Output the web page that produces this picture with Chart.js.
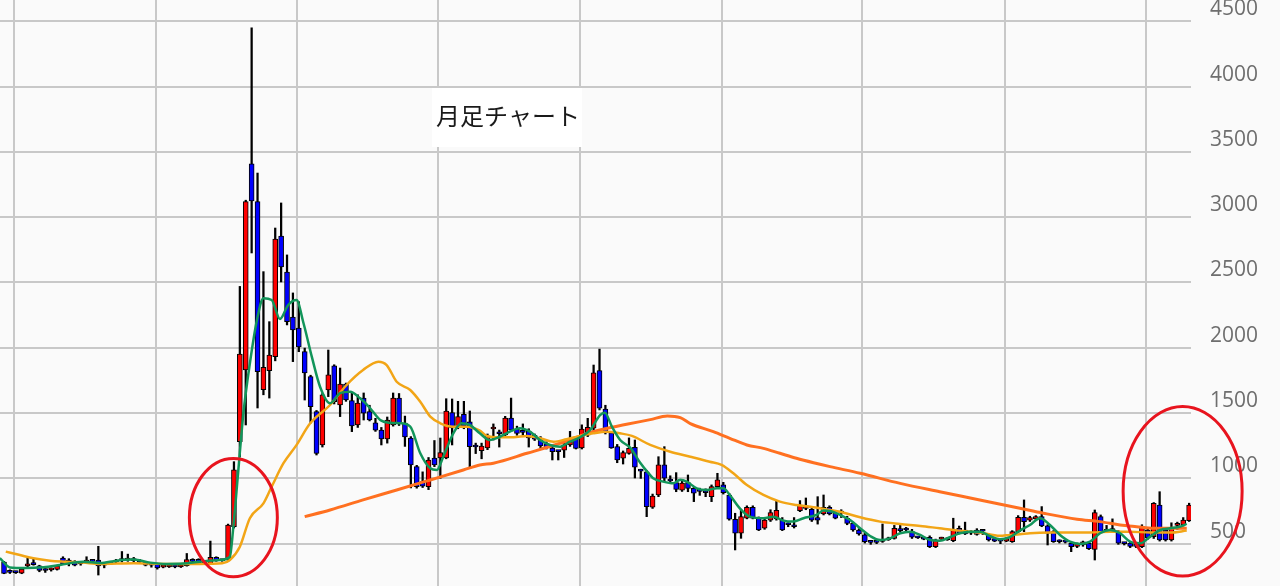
<!DOCTYPE html>
<html>
<head>
<meta charset="utf-8">
<title>月足チャート</title>
<script src="https://cdn.jsdelivr.net/npm/chart.js@4.4.1/dist/chart.umd.min.js"></script>
<style>
    html, body { margin: 0; padding: 0; background: #fafafa; }
    #wrap { width: 1280px; height: 586px; }
</style>
</head>
<body>
<div id="wrap"><canvas id="monthlyChart" width="1280" height="586"></canvas></div>
<script>
// Monthly candles (index 0 = oldest month)
const opens = [
    360, 285, 282, 275, 330, 345, 330, 300, 300, 302, 390, 370, 363, 345, 360, 370, 375, 335, 350, 360,
    370, 375, 380, 370, 360, 340, 345, 320, 322, 325, 322, 332, 370, 380, 345, 345, 395, 370, 375, 630,
    1281, 1830, 3408, 3119, 1680, 1825, 1932, 2856, 2580, 2236, 2151, 1970, 1779, 1511, 1256, 1677, 1861, 1562, 1723, 1595,
    1409, 1615, 1511, 1426, 1370, 1302, 1409, 1615, 1424, 1309, 1090, 975, 937, 1156, 1156, 1156, 1503, 1396, 1490, 1434,
    1248, 1212, 1233, 1378, 1348, 1332, 1462, 1375, 1360, 1363, 1330, 1302, 1264, 1233, 1210, 1217, 1256, 1304, 1233, 1330,
    1384, 1825, 1531, 1348, 1243, 1154, 1192, 1238, 1060, 1051, 779, 873, 1103, 995, 967, 910, 967, 924, 905, 895,
    860, 937, 950, 873, 687, 580, 695, 779, 695, 618, 681, 690, 681, 650, 640, 753, 770, 763, 700, 727,
    779, 733, 740, 695, 656, 605, 567, 520, 515, 517, 530, 541, 610, 610, 592, 550, 540, 549, 477, 535,
    535, 523, 618, 605, 590, 605, 600, 567, 540, 525, 520, 515, 592, 702, 680, 690, 707, 636, 592, 520,
    515, 503, 480, 490, 503, 457, 707, 600, 600, 592, 505, 505, 485, 477, 605, 554, 796, 605, 528, 640,
    643, 676
];
const highs = [
    365, 300, 290, 310, 400, 385, 335, 310, 315, 335, 400, 385, 370, 360, 400, 380, 480, 345, 365, 380,
    440, 420, 395, 380, 365, 350, 350, 330, 335, 335, 335, 425, 385, 385, 360, 520, 400, 380, 650, 1128,
    2470, 3130, 4450, 3338, 2583, 2200, 2917, 3109, 2711, 2420, 2353, 1998, 1790, 1520, 1650, 1983, 1870, 1845, 1730, 1654,
    1640, 1654, 1560, 1460, 1390, 1470, 1654, 1650, 1477, 1320, 1100, 1050, 1160, 1290, 1309, 1610, 1608, 1590, 1590, 1516,
    1270, 1270, 1340, 1417, 1370, 1475, 1615, 1400, 1417, 1380, 1340, 1320, 1280, 1240, 1215, 1275, 1360, 1320, 1410, 1460,
    1868, 1990, 1560, 1360, 1260, 1210, 1310, 1294, 1070, 1060, 880, 1166, 1243, 1020, 1044, 980, 1026, 935, 925, 920,
    950, 1039, 970, 885, 733, 758, 790, 790, 705, 700, 760, 827, 700, 660, 700, 830, 850, 775, 860, 873,
    790, 740, 760, 710, 665, 615, 580, 525, 520, 651, 550, 640, 640, 625, 610, 555, 545, 560, 535, 550,
    545, 695, 635, 665, 600, 615, 610, 575, 545, 530, 545, 600, 715, 835, 710, 715, 784, 645, 600, 530,
    520, 510, 505, 520, 510, 758, 720, 640, 690, 600, 510, 510, 495, 645, 615, 815, 898, 620, 660, 665,
    700, 810
];
const lows = [
    270, 272, 272, 270, 320, 335, 285, 280, 290, 298, 340, 330, 330, 335, 355, 355, 260, 315, 345, 355,
    360, 365, 360, 350, 330, 320, 305, 315, 318, 315, 318, 328, 355, 340, 340, 340, 365, 365, 365, 620,
    1166, 1409, 2726, 1539, 1640, 1615, 1900, 2504, 2175, 1894, 1970, 1600, 1424, 1179, 1240, 1626, 1570, 1473, 1590, 1358,
    1390, 1447, 1440, 1360, 1256, 1270, 1400, 1405, 1245, 927, 925, 930, 914, 1090, 1000, 1150, 1256, 1380, 1380, 1084,
    1190, 1150, 1220, 1294, 1240, 1320, 1360, 1330, 1330, 1240, 1290, 1230, 1225, 1141, 1141, 1160, 1245, 1225, 1225, 1320,
    1348, 1524, 1340, 1230, 1120, 1110, 1185, 1003, 1000, 707, 770, 860, 975, 970, 898, 900, 898, 822, 870, 860,
    822, 930, 880, 680, 452, 541, 690, 690, 600, 610, 670, 680, 600, 630, 620, 745, 760, 670, 650, 720,
    720, 690, 700, 645, 595, 565, 505, 495, 500, 510, 525, 535, 590, 595, 540, 540, 530, 470, 470, 525,
    525, 515, 575, 570, 570, 565, 570, 520, 515, 500, 515, 510, 585, 592, 670, 685, 630, 490, 510, 505,
    505, 439, 470, 480, 455, 375, 585, 585, 590, 495, 490, 470, 470, 470, 535, 540, 520, 520, 520, 610,
    635, 670
];
const closes = [
    273, 280, 278, 305, 335, 340, 295, 295, 305, 330, 345, 360, 335, 350, 365, 365, 330, 340, 355, 365,
    375, 380, 370, 360, 335, 335, 315, 322, 325, 322, 325, 378, 365, 345, 350, 395, 370, 372, 643, 1065,
    1952, 3119, 3124, 1817, 1850, 1945, 2833, 2619, 2200, 2136, 2006, 1807, 1549, 1192, 1639, 1792, 1588, 1723, 1600, 1401,
    1577, 1500, 1447, 1370, 1302, 1447, 1615, 1420, 1317, 1103, 937, 940, 1141, 1103, 1197, 1516, 1386, 1473, 1400, 1243,
    1240, 1248, 1325, 1383, 1342, 1462, 1370, 1345, 1352, 1309, 1300, 1248, 1235, 1205, 1205, 1256, 1281, 1230, 1378, 1390,
    1809, 1537, 1358, 1233, 1141, 1197, 1230, 1085, 1055, 783, 865, 1103, 1001, 980, 916, 965, 924, 886, 900, 890,
    937, 988, 890, 687, 580, 707, 779, 695, 605, 681, 738, 755, 605, 645, 630, 796, 790, 681, 680, 779,
    727, 695, 735, 656, 605, 574, 515, 510, 510, 530, 540, 618, 600, 605, 549, 545, 535, 477, 528, 540,
    530, 610, 580, 575, 580, 570, 595, 528, 520, 520, 540, 592, 702, 669, 700, 707, 636, 580, 515, 515,
    512, 477, 500, 515, 462, 738, 592, 595, 605, 503, 500, 480, 480, 631, 545, 809, 528, 528, 618, 645,
    681, 796
];

// Moving averages: [candle index, value]
const maShortIdx = [
    -0.7, 1, 3.6, 6.7, 9.5, 13.4, 16.3, 19.1, 22, 24.8, 27.6, 30.4, 33.2, 36.6, 38.3, 38.9, 39.7, 40.6, 41.7, 42.9,
    44, 45.4, 46.8, 48.2, 49.6, 50.8, 52.2, 53.6, 55.3, 57, 58.7, 60.4, 62.1, 63.8, 65.5, 67.2, 68.9, 70.6, 72.3, 73.4,
    74.5, 76.2, 77.6, 79, 80.7, 82.4, 84.1, 85.8, 87.5, 89.2, 90.9, 92.6, 94.3, 96, 97.7, 99.4, 101.1, 101.9, 103.1, 104.5,
    106.2, 107.9, 109.3, 110.1, 111.8, 113.5, 114.7, 115.8, 117.5, 119.2, 120.9, 122, 123.1, 124.8, 126.5, 128.8, 130.5, 132.2, 133.9, 135.6,
    137.8, 139, 140.1, 141.8, 143.5, 145.2, 146.9, 148.6, 150.3, 152, 153.7, 155.4, 157.1, 158.7, 160.4, 162.1, 163.8, 165.5, 167.2, 168.9,
    170.6, 172.3, 174, 175.7, 177.4, 179.1, 180.8, 182.5, 184.2, 185.9, 187.6, 189.3, 191, 192.7, 194.4, 196.1, 197.8, 199.5, 200.6
];
const maShortVal = [
    390, 318, 314, 320, 337, 362, 352, 370, 378, 355, 345, 348, 362, 375, 400, 630, 1040, 1498, 1881, 2213,
    2379, 2366, 2220, 2328, 2366, 2188, 1932, 1702, 1575, 1652, 1664, 1613, 1537, 1447, 1426, 1422, 1396, 1192, 1077, 1064,
    1166, 1345, 1422, 1409, 1345, 1294, 1319, 1358, 1384, 1358, 1294, 1256, 1243, 1281, 1315, 1370, 1485, 1503, 1396, 1294,
    1235, 1120, 1040, 1001, 975, 962, 990, 975, 924, 911, 924, 924, 873, 771, 707, 695, 707, 676, 669, 695,
    720, 755, 750, 720, 681, 618, 559, 528, 541, 580, 592, 567, 528, 523, 549, 580, 592, 592, 559, 534,
    550, 600, 643, 695, 643, 567, 515, 498, 515, 580, 605, 580, 515, 503, 554, 605, 618, 631, 651
];
const maMidIdx = [
    0.3, 2.7, 5, 7.8, 10.6, 13.4, 16.3, 22, 27.6, 33.2, 37, 38.3, 40, 41.7, 44, 45.4, 47.4, 49.6, 51.9, 55.3,
    58.1, 60.9, 63.5, 64.9, 66.6, 68.9, 70.6, 72.3, 74, 76.2, 78.5, 80.7, 81.9, 84.1, 86.4, 88.7, 90.9, 93.2, 95.4, 97.7,
    99.9, 102.2, 104.5, 106.5, 109.6, 113, 116.4, 119.7, 121.7, 123.7, 126, 128.8, 131.6, 134.4, 137.3, 140.1, 141.8, 145.2, 148.6, 152,
    155.4, 158.7, 162.1, 165.5, 168.9, 170.6, 172.3, 174, 177.4, 180.8, 184.2, 187.6, 191, 194.4, 197.8, 200.6
];
const maMidVal = [
    439, 413, 388, 370, 362, 355, 345, 350, 345, 345, 350, 375, 477, 695, 809, 937, 1116, 1255, 1420, 1562,
    1715, 1830, 1894, 1868, 1740, 1677, 1587, 1473, 1422, 1396, 1396, 1365, 1325, 1315, 1315, 1325, 1307, 1281, 1300, 1325,
    1345, 1358, 1345, 1325, 1256, 1204, 1166, 1128, 1103, 1039, 949, 873, 822, 796, 779, 758, 745, 702, 669, 651,
    636, 618, 600, 585, 560, 567, 572, 580, 585, 585, 585, 592, 592, 585, 585, 600
];
const maLongIdx = [
    51, 55.3, 60.9, 66.6, 72.3, 77.9, 80.7, 83, 88.7, 94.3, 99.9, 105.6, 109.6, 112.5, 114.7, 116.4, 120.3, 123.1, 126, 128.8,
    131.6, 134.4, 137.3, 140.1, 145.2, 152, 158.7, 165.5, 172.3, 176.3, 182, 185.9, 189.3, 192.1, 195, 198.3, 200.6
];
const maLongVal = [
    707, 758, 835, 911, 988, 1064, 1103, 1116, 1192, 1269, 1358, 1414, 1450, 1478, 1465, 1420, 1358, 1307, 1256, 1230,
    1192, 1154, 1120, 1090, 1039, 962, 898, 835, 771, 733, 687, 669, 643, 630, 618, 618, 618
];

// Axis ticks
const yTicks = [500, 1000, 1500, 2000, 2500, 3000, 3500, 4000, 4500];
const xGridIdx = [1.7, 25.7, 49.7, 73.6, 97.7, 121.7, 145.6, 169.8, 193.7];

// Red circle annotations: centre (index, value) and radii (index units, value units)
const circleIdx = [38.9, 199.9];
const circleVal = [700, 901];
const circleRadIdx = [7.46, 10.09];
const circleRadVal = [453, 649];

const title = '月足チャート';

const GRID = '#c8c8c8';

// Background of the whole picture
const backgroundPlugin = {
    id: 'background',
    beforeDraw(chart) {
        const ctx = chart.ctx;
        ctx.save();
        ctx.fillStyle = '#fafafa';
        ctx.fillRect(0, 0, chart.width, chart.height);
        ctx.restore();
    }
};

// Title in a white box sitting over the grid
const titlePlugin = {
    id: 'boxTitle',
    beforeDatasetsDraw(chart) {
        const ctx = chart.ctx;
        ctx.save();
        ctx.fillStyle = '#ffffff';
        ctx.fillRect(432, 88, 150, 59);
        ctx.font = '24px "Noto Sans CJK JP", sans-serif';
        ctx.fillStyle = '#1a1a1a';
        ctx.textAlign = 'center';
        ctx.textBaseline = 'middle';
        ctx.fillText(title, 508, 116);
        ctx.restore();
    }
};

// Hand-drawn style red ellipses
const circlePlugin = {
    id: 'circles',
    afterDraw(chart) {
        const ctx = chart.ctx;
        const xs = chart.scales.x;
        const ys = chart.scales.y;
        ctx.save();
        ctx.strokeStyle = '#e8141e';
        ctx.lineWidth = 3;
        circleIdx.forEach((ci, k) => {
            const cx = xs.getPixelForValue(ci);
            const cy = ys.getPixelForValue(circleVal[k]);
            const rx = xs.getPixelForValue(ci + circleRadIdx[k]) - cx;
            const ry = cy - ys.getPixelForValue(circleVal[k] + circleRadVal[k]);
            ctx.beginPath();
            ctx.ellipse(cx, cy, rx, ry, 0, 0, Math.PI * 2);
            ctx.stroke();
        });
        ctx.restore();
    }
};

function toPoints(xsArr, ysArr) {
    return xsArr.map((x, i) => ({ x: x, y: ysArr[i] }));
}

function createChart() {
    const idx = opens.map((_, i) => i);
    const wickData = idx.map(i => ({ x: i, y: [lows[i], highs[i]] }));
    const bodyData = idx.map(i => ({ x: i, y: [opens[i], closes[i]] }));
    const bodyColors = idx.map(i => closes[i] >= opens[i] ? '#ff0000' : '#0000ff');

    const lineStyle = {
        type: 'line',
        pointRadius: 0,
        borderWidth: 2.5,
        cubicInterpolationMode: 'monotone',
        fill: false
    };

    const ctx = document.getElementById('monthlyChart').getContext('2d');
    new Chart(ctx, {
        type: 'bar',
        data: {
            datasets: [
                { ...lineStyle, label: 'MA short', data: toPoints(maShortIdx, maShortVal), borderColor: '#12955a', order: 1 },
                { ...lineStyle, label: 'MA mid', data: toPoints(maMidIdx, maMidVal), borderColor: '#f2a516', order: 2 },
                { ...lineStyle, label: 'MA long', data: toPoints(maLongIdx, maLongVal), borderColor: '#ff7020', borderWidth: 3, order: 3 },
                {
                    label: 'body',
                    data: bodyData,
                    backgroundColor: bodyColors,
                    borderColor: '#000000',
                    borderWidth: 1,
                    borderSkipped: false,
                    barThickness: 5,
                    minBarLength: 2,
                    order: 4
                },
                {
                    label: 'wick',
                    data: wickData,
                    backgroundColor: '#000000',
                    borderWidth: 0,
                    barThickness: 1.6,
                    order: 5
                }
            ]
        },
        options: {
            responsive: false,
            animation: false,
            devicePixelRatio: 1,
            layout: { padding: 0 },
            datasets: { bar: { grouped: false } },
            plugins: {
                legend: { display: false },
                tooltip: { enabled: false },
                title: { display: false }
            },
            scales: {
                x: {
                    type: 'linear',
                    min: -0.68,
                    max: 201.32,
                    offset: false,
                    grid: { color: GRID, lineWidth: 2, drawTicks: false, offset: false },
                    border: { display: false },
                    ticks: { display: false },
                    afterBuildTicks: scale => {
                        scale.ticks = xGridIdx.map(v => ({ value: v }));
                    },
                    afterFit: scale => {
                        scale.height = 0;
                        scale.paddingLeft = 0;
                        scale.paddingRight = 0;
                    }
                },
                y: {
                    type: 'linear',
                    position: 'right',
                    min: 176,
                    max: 4663,
                    grid: { color: GRID, lineWidth: 2, drawTicks: false },
                    border: { display: false },
                    ticks: {
                        padding: 19,
                        labelOffset: -12,
                        color: '#6e6e6e',
                        font: { family: '"Open Sans", sans-serif', size: 21 },
                        callback: value => String(value)
                    },
                    afterBuildTicks: scale => {
                        scale.ticks = yTicks.map(v => ({ value: v }));
                    },
                    afterFit: scale => {
                        scale.width = 89;
                        scale.paddingTop = 0;
                        scale.paddingBottom = 0;
                    }
                }
            }
        },
        plugins: [backgroundPlugin, titlePlugin, circlePlugin]
    });
}

createChart();
</script>
</body>
</html>
